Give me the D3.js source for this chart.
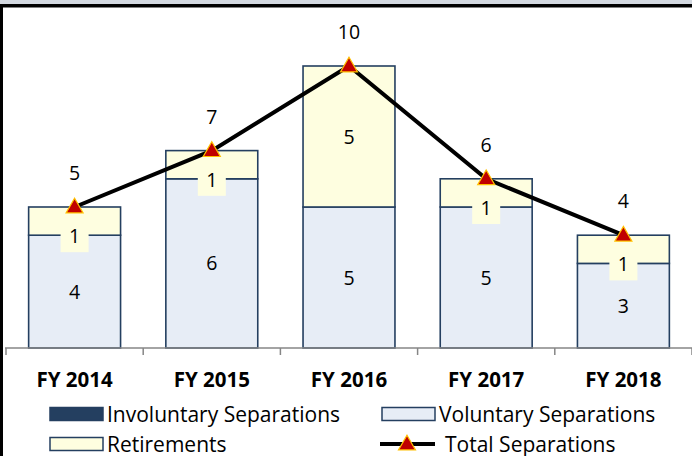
<!DOCTYPE html>
<html>
<head>
<meta charset="utf-8">
<script src="https://cdn.jsdelivr.net/npm/d3@7"></script>
<style>
  body { margin: 0; background: #fff; }
  svg { display: block; font-family: "Open Sans", sans-serif; }
</style>
</head>
<body>
<script>
let years = ['FY 2014', 'FY 2015', 'FY 2016', 'FY 2017', 'FY 2018']
let involuntary = [0, 0, 0, 0, 0]
let voluntary = [4, 6, 5, 5, 3]
let retirements = [1, 1, 5, 1, 1]
let totals = [5, 7, 10, 6, 4]

let W = 692, H = 456
let navy = '#243f60'

let svg = d3.select('body').append('svg')
    .attr('width', W)
    .attr('height', H)

// title strip cut off at the top and frame
svg.append('rect').attr('x', 0).attr('y', 0).attr('width', W).attr('height', 5).attr('fill', '#d3d8e0')
svg.append('rect').attr('x', 0).attr('y', 4).attr('width', W).attr('height', 3.5).attr('fill', '#000')
svg.append('rect').attr('x', 0).attr('y', 4).attr('width', 3).attr('height', H).attr('fill', '#000')

let xScale = d3.scaleBand()
    .domain(years)
    .range([6, 692])
    .paddingInner(0.33)
    .paddingOuter(0.165)

let yScale = d3.scaleLinear()
    .domain([0, 12])
    .range([348, 9.6])

// stack: involuntary, voluntary, retirements
let rows = years.map(function (y, i) {
    return { year: y, inv: involuntary[i], vol: voluntary[i], ret: retirements[i] }
})
let stack = d3.stack().keys(['inv', 'vol', 'ret'])(rows)
let fills = { inv: navy, vol: '#e7edf6', ret: '#fefee0' }

let g = svg.append('g')
stack.forEach(function (layer) {
    g.selectAll('.seg-' + layer.key)
        .data(layer.filter(d => d[1] > d[0]))
        .enter().append('rect')
        .attr('x', d => xScale(d.data.year))
        .attr('y', d => yScale(d[1]))
        .attr('width', xScale.bandwidth())
        .attr('height', d => yScale(d[0]) - yScale(d[1]))
        .attr('fill', fills[layer.key])
        .attr('stroke', navy)
        .attr('stroke-width', 1.6)
})

// axis
let axis = svg.append('g')
    .attr('transform', 'translate(0,348)')
axis.append('line').attr('x1', 5).attr('x2', W).attr('y1', 0).attr('y2', 0)
    .attr('stroke', '#868686').attr('stroke-width', 1.5)
let step = xScale.step()
axis.selectAll('.tick')
    .data(d3.range(years.length + 1))
    .enter().append('line')
    .attr('x1', i => 6 + i * step)
    .attr('x2', i => 6 + i * step)
    .attr('y1', 0).attr('y2', 7)
    .attr('stroke', '#868686').attr('stroke-width', 1.5)
axis.selectAll('.lbl')
    .data(years)
    .enter().append('text')
    .attr('x', d => xScale(d) + xScale.bandwidth() / 2)
    .attr('y', 38.5)
    .attr('text-anchor', 'middle')
    .attr('font-size', 20.5)
    .attr('font-weight', 'bold')
    .text(d => d)

// segment labels
let labels = svg.append('g').attr('font-size', 19.5).attr('text-anchor', 'middle')
stack.slice(1).forEach(function (layer) {
    layer.forEach(function (d) {
        let v = d[1] - d[0]
        if (v <= 0) return
        let cx = xScale(d.data.year) + xScale.bandwidth() / 2
        let cy = (yScale(d[0]) + yScale(d[1])) / 2
        if (v < 2) {
            cy = yScale(d[0]) + 1
            labels.append('rect')
                .attr('x', cx - 14).attr('y', cy - 13)
                .attr('width', 28).attr('height', 29)
                .attr('fill', fills[layer.key])
        }
        labels.append('text')
            .attr('x', cx).attr('y', cy + 7)
            .text(v)
    })
})

// total line
let line = d3.line()
    .x((d, i) => xScale(years[i]) + xScale.bandwidth() / 2)
    .y(d => yScale(d))
svg.append('path')
    .datum(totals)
    .attr('d', line)
    .attr('fill', 'none')
    .attr('stroke', '#000')
    .attr('stroke-width', 4)

let tri = d3.symbol().type(d3.symbolTriangle).size(125)
svg.selectAll('.mark')
    .data(totals)
    .enter().append('path')
    .attr('d', tri)
    .attr('transform', (d, i) => 'translate(' + (xScale(years[i]) + xScale.bandwidth() / 2) + ',' + (yScale(d) + 1) + ')')
    .attr('fill', '#c00000')
    .attr('stroke', '#ffc000')
    .attr('stroke-width', 1.2)

svg.selectAll('.tot')
    .data(totals)
    .enter().append('text')
    .attr('x', (d, i) => xScale(years[i]) + xScale.bandwidth() / 2)
    .attr('y', d => yScale(d) - 27)
    .attr('text-anchor', 'middle')
    .attr('font-size', 19.5)
    .text(d => d)

// legend
let legend = svg.append('g').attr('font-size', 21)
let items = [
    { name: 'Involuntary Separations', x: 50, y: 414, kind: 'inv' },
    { name: 'Voluntary Separations', x: 382, y: 414, kind: 'vol' },
    { name: 'Retirements', x: 50, y: 444, kind: 'ret' },
    { name: 'Total Separations', x: 380, y: 444, kind: 'line' }
]
items.forEach(function (it) {
    if (it.kind === 'line') {
        legend.append('line').attr('x1', it.x).attr('x2', it.x + 55)
            .attr('y1', it.y).attr('y2', it.y)
            .attr('stroke', '#000').attr('stroke-width', 4)
        legend.append('path').attr('d', tri)
            .attr('transform', 'translate(' + (it.x + 27) + ',' + (it.y + 1) + ')')
            .attr('fill', '#c00000').attr('stroke', '#ffc000').attr('stroke-width', 1.2)
        legend.append('text').attr('x', it.x + 65).attr('y', it.y + 7.5).text(it.name)
    } else {
        legend.append('rect').attr('x', it.x).attr('y', it.y - 6.5)
            .attr('width', 53).attr('height', 13)
            .attr('fill', fills[it.kind]).attr('stroke', navy).attr('stroke-width', 1.5)
        legend.append('text').attr('x', it.x + 57).attr('y', it.y + 7.5).text(it.name)
    }
})
</script>
</body>
</html>
